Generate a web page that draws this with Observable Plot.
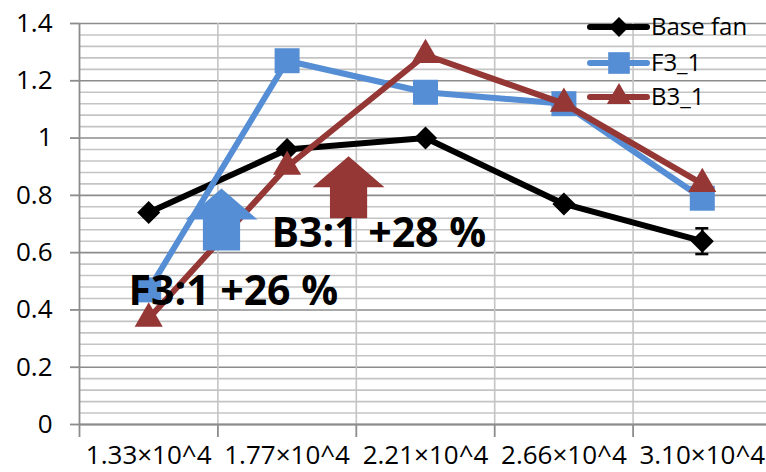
<!DOCTYPE html>
<html><head><meta charset="utf-8">
<script src="https://cdn.jsdelivr.net/npm/d3@7"></script>
<script src="https://cdn.jsdelivr.net/npm/@observablehq/plot@0.6"></script>
<style>
body{margin:0;background:#fff;}
#chart{position:relative;width:766px;height:472px;overflow:hidden;}
</style>
</head><body><div id="chart"></div>
<script>
// ---- data ----
const categories = ["1.33×10^4", "1.77×10^4", "2.21×10^4", "2.66×10^4", "3.10×10^4"];
const seriesNames = ["Base fan", "F3_1", "B3_1"];
const baseFan = [0.74, 0.96, 1.00, 0.77, 0.64];
const f3_1 = [0.47, 1.27, 1.16, 1.12, 0.79];
const b3_1 = [0.37, 0.90, 1.29, 1.12, 0.84];
const baseFanErr = [0, 0, 0, 0, 0.045];
const yTicks = [0, 0.2, 0.4, 0.6, 0.8, 1.0, 1.2, 1.4];
const yMinorTicks = d3.range(0, 71).map(k => k * 0.04).filter(v => v <= 1.4001 && Math.abs(v / 0.2 - Math.round(v / 0.2)) > 1e-6);
// annotations (data units)
const noteText = ["F3:1 +26 %", "B3:1 +28 %"];
const noteX = [-0.146, 0.887];
const noteY = [0.464, 0.667];
const arrowX = [0.526, 1.444];
const arrowY = [0.716, 0.828];

// ---- styles ----
const colors = ["#000000", "#558ED5", "#953735"];
const symbols = ["diamond2", "square", "triangle2"];
const radii = [10.4, 14.1, 13.4];
const allSeries = [baseFan, f3_1, b3_1];

const rows = [];
allSeries.forEach((vals, s) => vals.forEach((v, i) => rows.push({series: seriesNames[s], s, i, v, err: s === 0 ? baseFanErr[i] : 0})));
const errRows = rows.filter(d => d.err > 0);
const notes = noteText.map((t, k) => ({t, x: noteX[k], y: noteY[k]}));
const arrows = arrowX.map((x, k) => ({x, y: arrowY[k], c: colors[k + 1]}));

const arrowSymbol = {
  draw(ctx, size) {
    const r = Math.sqrt(size / Math.PI);
    const hw = 1.16 * r, sw = 0.6 * r;
    ctx.moveTo(0, -r);
    ctx.lineTo(hw, 0);
    ctx.lineTo(sw, 0);
    ctx.lineTo(sw, r);
    ctx.lineTo(-sw, r);
    ctx.lineTo(-sw, 0);
    ctx.lineTo(-hw, 0);
    ctx.closePath();
  }
};

const seriesMarks = [];
seriesNames.forEach((name, s) => {
  const d = rows.filter(r => r.s === s);
  seriesMarks.push(Plot.line(d, {x: "i", y: "v", stroke: colors[s], strokeWidth: 6, strokeLinejoin: "round", strokeLinecap: "round"}));
  seriesMarks.push(Plot.dot(d, {x: "i", y: "v", symbol: symbols[s], r: radii[s], fill: colors[s], stroke: "none"}));
});

const chart = Plot.plot({
  width: 766,
  height: 472,
  marginLeft: 79,
  marginTop: 23,
  marginBottom: 48,
  marginRight: 0,
  style: {fontFamily: "Open Sans", background: "#fff", overflow: "visible"},
  x: {domain: [-0.5, 4.5], range: [79, 771], axis: null},
  y: {domain: [0, 1.4], axis: null},
  marks: [
    Plot.ruleY(yMinorTicks, {stroke: "#c4c4c4", strokeWidth: 1.6}),
    Plot.ruleY(yTicks, {stroke: "#8c8c8c", strokeWidth: 1.6}),
    Plot.ruleX([0.5, 1.5, 2.5, 3.5], {stroke: "#c4c4c4", strokeWidth: 1.6}),
    Plot.ruleX([-0.5], {stroke: "#8c8c8c", strokeWidth: 1.8}),
    Plot.axisY({ticks: yTicks, tickSize: 9, tickPadding: 18, fontSize: 26, stroke: "#8c8c8c", strokeWidth: 1.8, fill: "#000", tickFormat: d => String(+d.toFixed(1))}),
    Plot.axisX({ticks: [-0.5, 0.5, 1.5, 2.5, 3.5], tickSize: 13, stroke: "#8c8c8c", strokeWidth: 1.8, tickFormat: () => ""}),
    Plot.axisX({ticks: [0, 1, 2, 3, 4], tickSize: 0, tickPadding: 21, fontSize: 26, fill: "#000", tickFormat: i => categories[i]}),
    Plot.ruleY([0], {stroke: "#8c8c8c", strokeWidth: 1.8}),
    Plot.ruleX(errRows, {x: "i", y1: d => d.v - d.err, y2: d => d.v + d.err, stroke: "#000", strokeWidth: 2.5}),
    Plot.ruleY(errRows, {x1: d => d.i - 0.047, x2: d => d.i + 0.047, y: d => d.v - d.err, stroke: "#000", strokeWidth: 2.5}),
    Plot.ruleY(errRows, {x1: d => d.i - 0.047, x2: d => d.i + 0.047, y: d => d.v + d.err, stroke: "#000", strokeWidth: 2.5}),
    ...seriesMarks,
    Plot.dot(arrows, {x: "x", y: "y", r: 31, symbol: arrowSymbol, fill: "c", stroke: "none"}),
    Plot.text(notes, {x: "x", y: "y", text: "t", textAnchor: "start", lineAnchor: "middle", fontSize: 41, fontWeight: "bold", fill: "#000"})
  ]
});
document.getElementById("chart").appendChild(chart);

// legend drawn inside the svg
const svg = d3.select(chart);
const lg = svg.append("g").attr("font-family", "Open Sans").attr("font-size", 24).attr("text-anchor", "start");
const legY = [27, 63, 97];
const symMap = {diamond2: d3.symbolDiamond2, square: d3.symbolSquare, triangle2: d3.symbolTriangle2};
seriesNames.forEach((name, s) => {
  const g = lg.append("g").attr("transform", `translate(0,${legY[s]})`);
  g.append("line").attr("x1", 590).attr("x2", 647).attr("y1", 0).attr("y2", 0)
    .attr("stroke", colors[s]).attr("stroke-width", 6).attr("stroke-linecap", "round");
  g.append("path").attr("transform", "translate(619,0)")
    .attr("d", d3.symbol(symMap[symbols[s]], radii[s] * radii[s] * Math.PI * 0.75)())
    .attr("fill", colors[s]);
  g.append("text").attr("x", 651).attr("y", 0).attr("dy", "0.35em").attr("fill", "#000").attr("text-anchor", "start").text(name);
});
</script>
</body></html>
